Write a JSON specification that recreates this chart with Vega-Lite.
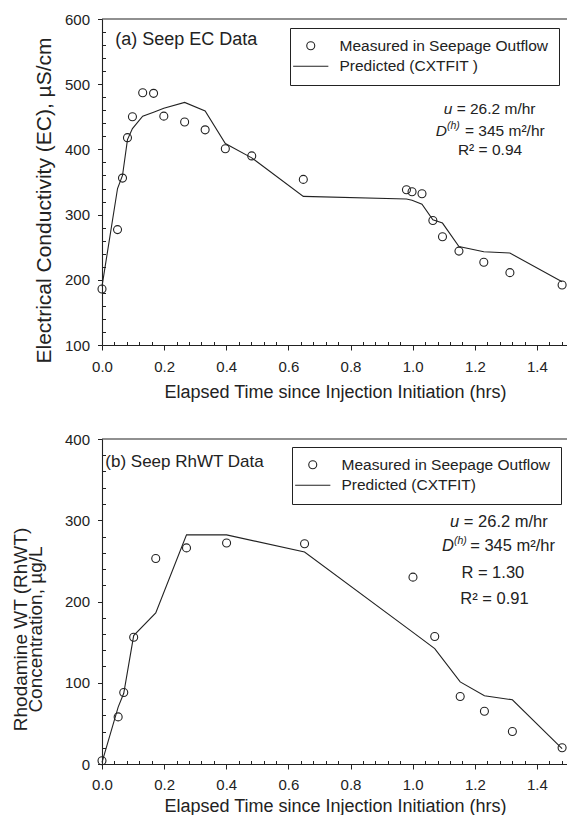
{
  "$schema": "https://vega.github.io/schema/vega-lite/v6.json",
  "padding": {"left": 11, "top": 12, "right": 0, "bottom": 0},
  "spacing": 31,
  "config": {
    "font": "Liberation Sans",
    "view": {"stroke": null},
    "axis": {
      "grid": false,
      "domainColor": "#222",
      "domainWidth": 1.1,
      "tickColor": "#222",
      "tickWidth": 1,
      "labelColor": "#222",
      "titleColor": "#222",
      "labelFont": "Liberation Sans",
      "titleFont": "Liberation Sans",
      "labelFontSize": 15,
      "titleFontWeight": "normal",
      "labelFlush": false,
      "labelOverlap": false
    },
    "text": {"font": "Liberation Sans", "color": "#222"}
  },
  "datasets": {
    "ecMeasured": [
      {"t": 0, "ec": 186}, {"t": 0.05, "ec": 277}, {"t": 0.066, "ec": 356}, {"t": 0.082, "ec": 418},
      {"t": 0.098, "ec": 450}, {"t": 0.131, "ec": 487}, {"t": 0.166, "ec": 486}, {"t": 0.199, "ec": 451},
      {"t": 0.266, "ec": 442}, {"t": 0.332, "ec": 430}, {"t": 0.397, "ec": 401}, {"t": 0.482, "ec": 390},
      {"t": 0.648, "ec": 354}, {"t": 0.98, "ec": 338}, {"t": 0.998, "ec": 335}, {"t": 1.03, "ec": 332},
      {"t": 1.065, "ec": 291}, {"t": 1.096, "ec": 266}, {"t": 1.149, "ec": 244}, {"t": 1.229, "ec": 227},
      {"t": 1.313, "ec": 211}, {"t": 1.481, "ec": 192}
    ],
    "ecPredicted": [
      {"t": 0, "ec": 190}, {"t": 0.05, "ec": 340}, {"t": 0.066, "ec": 360}, {"t": 0.082, "ec": 415},
      {"t": 0.098, "ec": 432}, {"t": 0.131, "ec": 451}, {"t": 0.166, "ec": 457}, {"t": 0.199, "ec": 463},
      {"t": 0.266, "ec": 472}, {"t": 0.332, "ec": 459}, {"t": 0.397, "ec": 409}, {"t": 0.482, "ec": 387},
      {"t": 0.648, "ec": 328}, {"t": 0.98, "ec": 324}, {"t": 0.998, "ec": 322}, {"t": 1.03, "ec": 316},
      {"t": 1.065, "ec": 292}, {"t": 1.096, "ec": 287}, {"t": 1.149, "ec": 251}, {"t": 1.229, "ec": 243},
      {"t": 1.313, "ec": 241}, {"t": 1.481, "ec": 197}
    ],
    "rhMeasured": [
      {"t": 0, "rh": 4}, {"t": 0.052, "rh": 58}, {"t": 0.07, "rh": 88}, {"t": 0.102, "rh": 156},
      {"t": 0.173, "rh": 253}, {"t": 0.272, "rh": 266}, {"t": 0.401, "rh": 272}, {"t": 0.652, "rh": 271},
      {"t": 1.001, "rh": 230}, {"t": 1.071, "rh": 157}, {"t": 1.153, "rh": 83}, {"t": 1.231, "rh": 65},
      {"t": 1.321, "rh": 40}, {"t": 1.481, "rh": 20}
    ],
    "rhPredicted": [
      {"t": 0, "rh": 2}, {"t": 0.052, "rh": 70}, {"t": 0.07, "rh": 87}, {"t": 0.102, "rh": 158},
      {"t": 0.173, "rh": 186}, {"t": 0.272, "rh": 282}, {"t": 0.401, "rh": 282}, {"t": 0.652, "rh": 261},
      {"t": 1.001, "rh": 162}, {"t": 1.071, "rh": 142}, {"t": 1.153, "rh": 101}, {"t": 1.231, "rh": 84},
      {"t": 1.321, "rh": 79}, {"t": 1.481, "rh": 19}
    ],
    "annotation": [{}]
  },
  "vconcat": [
    {
      "width": 466,
      "height": 326,
      "resolve": {"axis": {"x": "independent", "y": "independent"}},
      "layer": [
        {
          "data": {"name": "ecPredicted"},
          "mark": {"type": "line", "color": "#222", "strokeWidth": 1.1},
          "encoding": {
            "x": {"field": "t", "type": "quantitative", "scale": {"domain": [0, 1.5], "nice": false, "zero": false},
              "axis": {"orient": "bottom", "values": [0, 0.2, 0.4, 0.6, 0.8, 1.0, 1.2, 1.4], "format": ".1f", "tickSize": 5, "labelPadding": 9,
                "title": "Elapsed Time since Injection Initiation (hrs)", "titleFontSize": 18, "titleBaseline": "alphabetic", "titleY": 52}},
            "y": {"field": "ec", "type": "quantitative", "scale": {"domain": [100, 600], "nice": false, "zero": false},
              "axis": {"orient": "left", "values": [100, 200, 300, 400, 500, 600], "tickSize": 4.5, "labelPadding": 8,
                "title": "Electrical Conductivity (EC), µS/cm", "titleFontSize": 21, "titleAngle": 270, "titleAlign": "center", "titleBaseline": "middle", "titleX": -58, "titleY": 181}}
          }
        },
        {
          "data": {"name": "ecMeasured"},
          "mark": {"type": "point", "filled": false, "color": "#222", "strokeWidth": 1.1, "size": 64, "opacity": 1},
          "encoding": {
            "x": {"field": "t", "type": "quantitative",
              "axis": {"orient": "bottom", "values": [0.04, 0.08, 0.12, 0.16, 0.24, 0.28, 0.32, 0.36, 0.44, 0.48, 0.52, 0.56, 0.64, 0.68, 0.72, 0.76, 0.84, 0.88, 0.92, 0.96, 1.04, 1.08, 1.12, 1.16, 1.24, 1.28, 1.32, 1.36, 1.44, 1.48],
                "labelColor": "transparent", "labelFontSize": 1, "labelPadding": 0, "domain": false, "tickSize": 3.5, "offset": -3.5, "title": null}},
            "y": {"field": "ec", "type": "quantitative",
              "axis": {"orient": "left", "values": [120, 140, 160, 180, 220, 240, 260, 280, 320, 340, 360, 380, 420, 440, 460, 480, 520, 540, 560, 580],
                "labelColor": "transparent", "labelFontSize": 1, "labelPadding": 0, "domain": false, "tickSize": 3.5, "offset": -3.5, "title": null}},
            "shape": {"datum": "Measured in Seepage Outflow", "type": "nominal",
              "scale": {"domain": ["Measured in Seepage Outflow", "Predicted (CXTFIT )"], "range": ["circle", "M-4.4,0L4.4,0"]},
              "legend": {"orient": "top-right", "offset": 9, "title": null, "padding": 10, "strokeColor": "#222", "fillColor": "white",
                "labelFont": "Liberation Sans", "labelFontSize": 15.5, "labelColor": "#222", "labelOffset": 21, "symbolOffset": 3, "rowPadding": 3.5,
                "symbolSize": 64, "symbolStrokeWidth": 1.1, "symbolStrokeColor": "#222", "symbolFillColor": "transparent", "labelLimit": 0}}
          }
        },
        {
          "data": {"name": "annotation"},
          "mark": {"type": "rule", "color": "#222", "strokeWidth": 1.1},
          "encoding": {"y": {"datum": 600, "type": "quantitative", "axis": null}}
        },
        {
          "data": {"name": "annotation"},
          "mark": {"type": "text", "text": "(a) Seep EC Data", "align": "left", "baseline": "middle", "fontSize": 18},
          "encoding": {"x": {"datum": 0.0428, "type": "quantitative", "axis": null}, "y": {"datum": 567.8, "type": "quantitative", "axis": null}}
        },
        {
          "data": {"name": "annotation"},
          "mark": {"type": "text", "text": "u", "align": "right", "baseline": "middle", "fontSize": 15.5, "fontStyle": "italic"},
          "encoding": {"x": {"datum": 1.1277, "type": "quantitative", "axis": null}, "y": {"datum": 461.5, "type": "quantitative", "axis": null}}
        },
        {
          "data": {"name": "annotation"},
          "mark": {"type": "text", "text": "= 26.2 m/hr", "align": "left", "baseline": "middle", "fontSize": 15.5, "dx": 4.3},
          "encoding": {"x": {"datum": 1.1277, "type": "quantitative", "axis": null}, "y": {"datum": 461.5, "type": "quantitative", "axis": null}}
        },
        {
          "data": {"name": "annotation"},
          "mark": {"type": "text", "text": "D", "align": "right", "baseline": "middle", "fontSize": 15.5, "fontStyle": "italic"},
          "encoding": {"x": {"datum": 1.1103, "type": "quantitative", "axis": null}, "y": {"datum": 428.7, "type": "quantitative", "axis": null}}
        },
        {
          "data": {"name": "annotation"},
          "mark": {"type": "text", "text": "(h)", "align": "left", "baseline": "middle", "fontSize": 10.5, "fontStyle": "italic", "dy": -5},
          "encoding": {"x": {"datum": 1.1103, "type": "quantitative", "axis": null}, "y": {"datum": 428.7, "type": "quantitative", "axis": null}}
        },
        {
          "data": {"name": "annotation"},
          "mark": {"type": "text", "text": "= 345 m²/hr", "align": "left", "baseline": "middle", "fontSize": 15.5, "dx": 4.3},
          "encoding": {"x": {"datum": 1.1546, "type": "quantitative", "axis": null}, "y": {"datum": 428.7, "type": "quantitative", "axis": null}}
        },
        {
          "data": {"name": "annotation"},
          "mark": {"type": "text", "text": "R² = 0.94", "align": "center", "baseline": "middle", "fontSize": 15.5},
          "encoding": {"x": {"datum": 1.249, "type": "quantitative", "axis": null}, "y": {"datum": 399, "type": "quantitative", "axis": null}}
        }
      ]
    },
    {
      "width": 466,
      "height": 325,
      "resolve": {"axis": {"x": "independent", "y": "independent"}},
      "layer": [
        {
          "data": {"name": "rhPredicted"},
          "mark": {"type": "line", "color": "#222", "strokeWidth": 1.1},
          "encoding": {
            "x": {"field": "t", "type": "quantitative", "scale": {"domain": [0, 1.5], "nice": false, "zero": false},
              "axis": {"orient": "bottom", "values": [0, 0.2, 0.4, 0.6, 0.8, 1.0, 1.2, 1.4], "format": ".1f", "tickSize": 5, "labelPadding": 8,
                "title": "Elapsed Time since Injection Initiation (hrs)", "titleFontSize": 18, "titleBaseline": "alphabetic", "titleY": 47}},
            "y": {"field": "rh", "type": "quantitative", "scale": {"domain": [0, 400], "nice": false, "zero": false},
              "axis": {"orient": "left", "values": [0, 100, 200, 300, 400], "tickSize": 4.5, "labelPadding": 8,
                "title": ["Rhodamine WT (RhWT)", "Concentration, µg/L"], "titleFontSize": 19, "titleLineHeight": 15, "titleAngle": 270, "titleAlign": "center", "titleBaseline": "middle", "titleX": -82, "titleY": 190}}
          }
        },
        {
          "data": {"name": "rhMeasured"},
          "mark": {"type": "point", "filled": false, "color": "#222", "strokeWidth": 1.1, "size": 64, "opacity": 1},
          "encoding": {
            "x": {"field": "t", "type": "quantitative",
              "axis": {"orient": "bottom", "values": [0.04, 0.08, 0.12, 0.16, 0.24, 0.28, 0.32, 0.36, 0.44, 0.48, 0.52, 0.56, 0.64, 0.68, 0.72, 0.76, 0.84, 0.88, 0.92, 0.96, 1.04, 1.08, 1.12, 1.16, 1.24, 1.28, 1.32, 1.36, 1.44, 1.48],
                "labelColor": "transparent", "labelFontSize": 1, "labelPadding": 0, "domain": false, "tickSize": 3.5, "offset": -3.5, "title": null}},
            "y": {"field": "rh", "type": "quantitative",
              "axis": {"orient": "left", "values": [20, 40, 60, 80, 120, 140, 160, 180, 220, 240, 260, 280, 320, 340, 360, 380],
                "labelColor": "transparent", "labelFontSize": 1, "labelPadding": 0, "domain": false, "tickSize": 3.5, "offset": -3.5, "title": null}},
            "shape": {"datum": "Measured in Seepage Outflow", "type": "nominal",
              "scale": {"domain": ["Measured in Seepage Outflow", "Predicted (CXTFIT)"], "range": ["circle", "M-4.4,0L4.4,0"]},
              "legend": {"orient": "top-right", "offset": 7.5, "title": null, "padding": 10, "strokeColor": "#222", "fillColor": "white",
                "labelFont": "Liberation Sans", "labelFontSize": 15.5, "labelColor": "#222", "labelOffset": 21, "symbolOffset": 3, "rowPadding": 3.5,
                "symbolSize": 64, "symbolStrokeWidth": 1.1, "symbolStrokeColor": "#222", "symbolFillColor": "transparent", "labelLimit": 0}}
          }
        },
        {
          "data": {"name": "annotation"},
          "mark": {"type": "rule", "color": "#222", "strokeWidth": 1.1},
          "encoding": {"y": {"datum": 400, "type": "quantitative", "axis": null}}
        },
        {
          "data": {"name": "annotation"},
          "mark": {"type": "text", "text": "(b) Seep RhWT Data", "align": "left", "baseline": "middle", "fontSize": 17},
          "encoding": {"x": {"datum": 0.0106, "type": "quantitative", "axis": null}, "y": {"datum": 372.2, "type": "quantitative", "axis": null}}
        },
        {
          "data": {"name": "annotation"},
          "mark": {"type": "text", "text": "u", "align": "right", "baseline": "middle", "fontSize": 16.5, "fontStyle": "italic"},
          "encoding": {"x": {"datum": 1.1498, "type": "quantitative", "axis": null}, "y": {"datum": 298.4, "type": "quantitative", "axis": null}}
        },
        {
          "data": {"name": "annotation"},
          "mark": {"type": "text", "text": "= 26.2 m/hr", "align": "left", "baseline": "middle", "fontSize": 16.5, "dx": 4.6},
          "encoding": {"x": {"datum": 1.1498, "type": "quantitative", "axis": null}, "y": {"datum": 298.4, "type": "quantitative", "axis": null}}
        },
        {
          "data": {"name": "annotation"},
          "mark": {"type": "text", "text": "D", "align": "right", "baseline": "middle", "fontSize": 16.5, "fontStyle": "italic"},
          "encoding": {"x": {"datum": 1.1328, "type": "quantitative", "axis": null}, "y": {"datum": 267.7, "type": "quantitative", "axis": null}}
        },
        {
          "data": {"name": "annotation"},
          "mark": {"type": "text", "text": "(h)", "align": "left", "baseline": "middle", "fontSize": 10.5, "fontStyle": "italic", "dy": -5.5},
          "encoding": {"x": {"datum": 1.1328, "type": "quantitative", "axis": null}, "y": {"datum": 267.7, "type": "quantitative", "axis": null}}
        },
        {
          "data": {"name": "annotation"},
          "mark": {"type": "text", "text": "= 345 m²/hr", "align": "left", "baseline": "middle", "fontSize": 16.5, "dx": 4.6},
          "encoding": {"x": {"datum": 1.1704, "type": "quantitative", "axis": null}, "y": {"datum": 267.7, "type": "quantitative", "axis": null}}
        },
        {
          "data": {"name": "annotation"},
          "mark": {"type": "text", "text": "R = 1.30", "align": "center", "baseline": "middle", "fontSize": 16.5},
          "encoding": {"x": {"datum": 1.258, "type": "quantitative", "axis": null}, "y": {"datum": 234.8, "type": "quantitative", "axis": null}}
        },
        {
          "data": {"name": "annotation"},
          "mark": {"type": "text", "text": "R² = 0.91", "align": "center", "baseline": "middle", "fontSize": 16.5},
          "encoding": {"x": {"datum": 1.2634, "type": "quantitative", "axis": null}, "y": {"datum": 203.2, "type": "quantitative", "axis": null}}
        }
      ]
    }
  ],
  "resolve": {"scale": {"shape": "independent", "x": "independent", "y": "independent"}, "legend": {"shape": "independent"}}
}
